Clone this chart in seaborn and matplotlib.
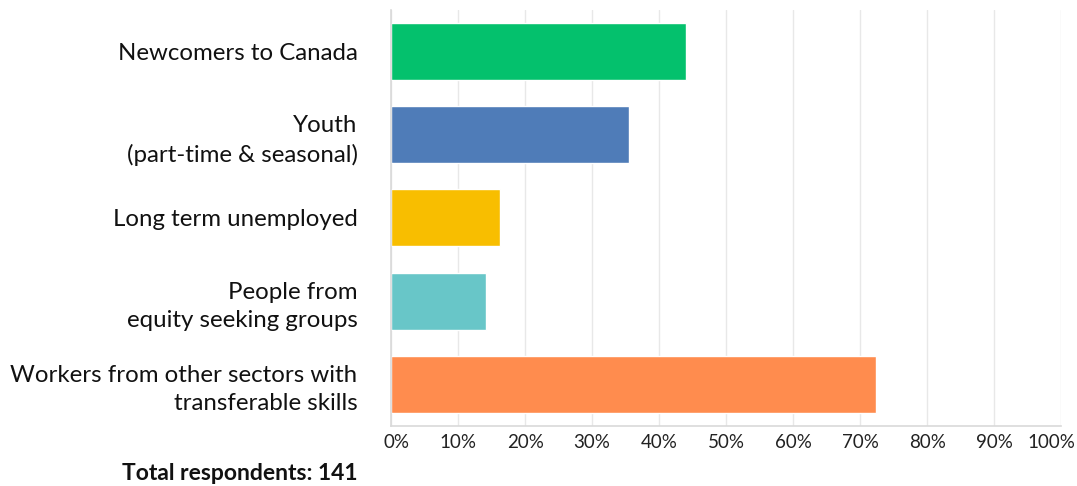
import matplotlib
matplotlib.use("Agg")
import matplotlib.pyplot as plt
import matplotlib.transforms as mtransforms
import seaborn as sns
import pandas as pd

groups = [
    "Newcomers to Canada",
    "Youth\n(part-time & seasonal)",
    "Long term unemployed",
    "People from\nequity seeking groups",
    "Workers from other sectors with\ntransferable skills",
]
shares = [44.0, 35.5, 16.3, 14.2, 72.3]
colors = ["#04C16D", "#4F7CB8", "#F8BE00", "#68C6C8", "#FF8C4E"]
tick_values = [0, 10, 20, 30, 40, 50, 60, 70, 80, 90, 100]
tick_labels = [f"{v}%" for v in tick_values]
footnote = "Total respondents: 141"

sns.set_theme(style="white")
plt.rcParams["font.family"] = ["Lato", "DejaVu Sans"]

df = pd.DataFrame({"group": groups, "share": shares})

fig = plt.figure(figsize=(10.77, 4.86), dpi=100)
ax = fig.add_axes([0.363, 0.1235, 0.6226, 0.856])

sns.barplot(data=df, x="share", y="group", hue="group", palette=colors,
            legend=False, width=0.685, orient="h", ax=ax, saturation=1)

ax.set_xlim(0, 100)
ax.set_ylim(4.5, -0.5)
ax.set_xticks(tick_values)
ax.set_xticklabels(tick_labels, fontsize=13.5, color="#222222")
ax.tick_params(axis="y", labelsize=17.3, colors="#111111", length=0, pad=24)
ax.tick_params(axis="x", length=0, pad=6)
for lbl in ax.get_yticklabels():
    lbl.set_horizontalalignment("right")
    lbl.set_linespacing(1.4)

# nudge the end labels inward so they stay inside the figure
xlabels = ax.get_xticklabels()
xlabels[0].set_transform(xlabels[0].get_transform() +
                         mtransforms.ScaledTranslation(6 / 100, 0, fig.dpi_scale_trans))
xlabels[-1].set_transform(xlabels[-1].get_transform() +
                          mtransforms.ScaledTranslation(-10 / 100, 0, fig.dpi_scale_trans))

ax.set_xlabel("")
ax.set_ylabel("")
ax.grid(axis="x", color="#E8E8E8", linewidth=1)
ax.set_axisbelow(True)
for side in ["top", "right"]:
    ax.spines[side].set_visible(False)
for side in ["left", "bottom"]:
    ax.spines[side].set_color("#D9D9D9")
    ax.spines[side].set_linewidth(1.2)

fig.text(357 / 1077, 1 - 473 / 486, footnote, ha="right", va="center",
         fontsize=16.5, fontweight="bold", color="#111111")

fig.savefig("out.png", dpi=100)
